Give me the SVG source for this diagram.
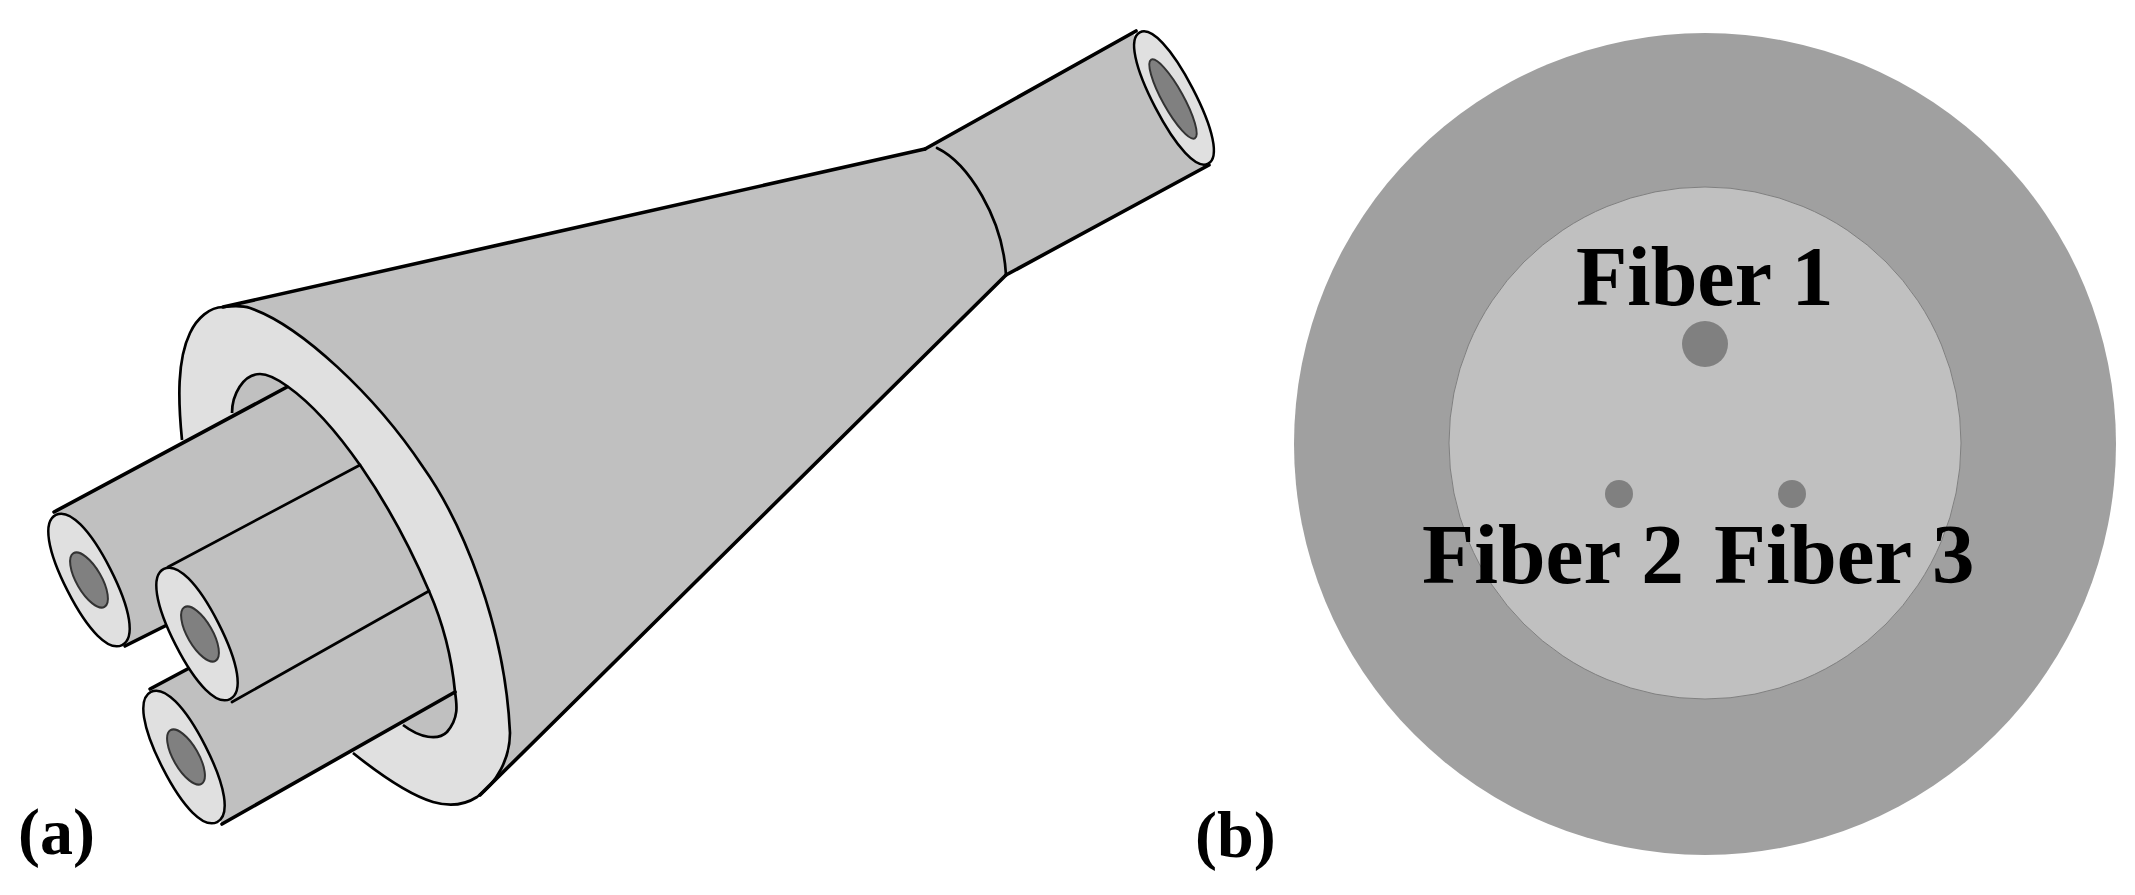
<svg xmlns="http://www.w3.org/2000/svg" width="2135" height="895" viewBox="0 0 2135 895">
<style>
.body{fill:#c0c0c0;stroke:none}
.line{fill:none;stroke:#000;stroke-width:3.6;stroke-linecap:round;stroke-linejoin:round}
.thin{fill:none;stroke:#000;stroke-width:2.7;stroke-linecap:round}
.cap{fill:#e0e0e0;stroke:#000;stroke-width:2.5}
.core{fill:#808080;stroke:#333;stroke-width:2}
.lbl{font-family:"Liberation Serif","Times New Roman",serif;font-weight:bold;fill:#000}
</style>
<defs>
<path id="holeP" d="M232,413 C232,395 243,374 260,374 C270,374 280,381 287,386 C311,403 336.75,431.5 361.4,467.1 C386,502.75 409.5,545.5 429,591 C443,623 452,660 455,692 C457,705 459,718 447,732 C438,741 420,738 403,725"/>
<path id="tubeCap" d="M-73,0 C-73,-15 -45,-24 0,-24 C45,-24 73,-15 73,0 C73,15 45,24 0,24 C-45,24 -73,15 -73,0Z"/>
<path id="endCap" d="M-74,0 C-74,-13 -45,-21 0,-21 C45,-21 74,-13 74,0 C74,13 45,21 0,21 C-45,21 -74,13 -74,0Z"/>
</defs>
<rect width="2135" height="895" fill="#fff"/>
<g id="panel-a">
<g id="cone">
<path class="body" d="M240,304 L925,149 L980,150 L1006,275 L490,785 Z"/>
</g>
<g id="small-tube">
<path class="body" d="M925,150 L1133,33 L1210,165 L1006,275 Z"/>
<path class="line" d="M925,149 L1136,31"/>
<path class="line" d="M1006,275 L1209,165"/>
<use class="cap" href="#endCap" transform="translate(1174 98) rotate(62.5)"/>
<ellipse class="core" cx="1173" cy="99" rx="45" ry="10.5" transform="rotate(61 1173 99)"/>
</g>
<g id="flange">
<path fill="#e0e0e0" stroke="#000" stroke-width="2.7" d="M182,440 C178,400 177,360 190,333 C197,318 210,307 223,307 C232,306 241,305 250,308 C300,325 375,395 423,467 C462,522 505,625 510,733 C510,758 497,783 477,797 C463,806 447,806 433,802 C410,795 378,773 353,753"/>
<use href="#holeP" fill="#c0c0c0" stroke="none"/>
</g>
<g id="cone-outline">
<path class="line" d="M223,307 L925,149"/>
<path class="line" d="M480,795 L1006,275"/>
<path class="thin" d="M937,148 C968,163 1003,218 1006,275"/>
</g>
<g id="fiber-tube-1">
<path class="body" d="M54,512 L287,387 C311,403 336.75,431.5 361.4,467.1 L361,529 L125,646 Z"/>
<path class="line" d="M54,512 L287,387"/>
<path class="line" d="M125,646 L173,622"/>
<use class="cap" href="#tubeCap" transform="translate(89 580) rotate(63)"/>
<ellipse class="core" cx="89" cy="580" rx="31" ry="12.5" transform="rotate(60 89 580)"/>
</g>
<g id="fiber-tube-3">
<path class="body" d="M150,689 L400,564 L429,591 C443,623 452,660 455,692 L222,824 Z"/>
<path class="line" d="M150,689 L195,665"/>
<path class="line" d="M222,824 L455,692"/>
<use class="cap" href="#tubeCap" transform="translate(184 757) rotate(63)"/>
<ellipse class="core" cx="186" cy="757" rx="31" ry="12.5" transform="rotate(60 186 757)"/>
</g>
<g id="fiber-tube-2">
<path class="body" d="M168,567 L361.4,467.1 C386,502.75 409.5,545.5 429,591 L232,702 Z"/>
<path class="thin" d="M168,567 L360,465"/>
<path class="thin" d="M232,702 L429,591"/>
<use class="cap" href="#tubeCap" transform="translate(197 634) rotate(63)"/>
<ellipse class="core" cx="200" cy="634" rx="31" ry="12.5" transform="rotate(60 200 634)"/>
</g>
<use id="hole-outline" href="#holeP" fill="none" stroke="#000" stroke-width="2.7"/>
<text class="lbl" x="18" y="854" font-size="66">(a)</text>
</g>
<g id="panel-b">
<circle id="cladding-outer" cx="1705" cy="444" r="411" fill="#a0a0a0"/>
<circle id="cladding-inner" cx="1705" cy="443" r="256" fill="#c0c0c0" stroke="#808080" stroke-width="1"/>
<circle id="core-1" cx="1705" cy="344" r="23" fill="#808080"/>
<circle id="core-2" cx="1619" cy="494" r="14" fill="#808080"/>
<circle id="core-3" cx="1792" cy="494" r="14" fill="#808080"/>
<text class="lbl" x="1576" y="305" font-size="84">Fiber 1</text>
<text class="lbl" x="1422" y="583" font-size="85.5">Fiber 2</text>
<text class="lbl" x="1714" y="583" font-size="85">Fiber 3</text>
<text class="lbl" x="1195" y="857" font-size="66">(b)</text>
</g>
</svg>
